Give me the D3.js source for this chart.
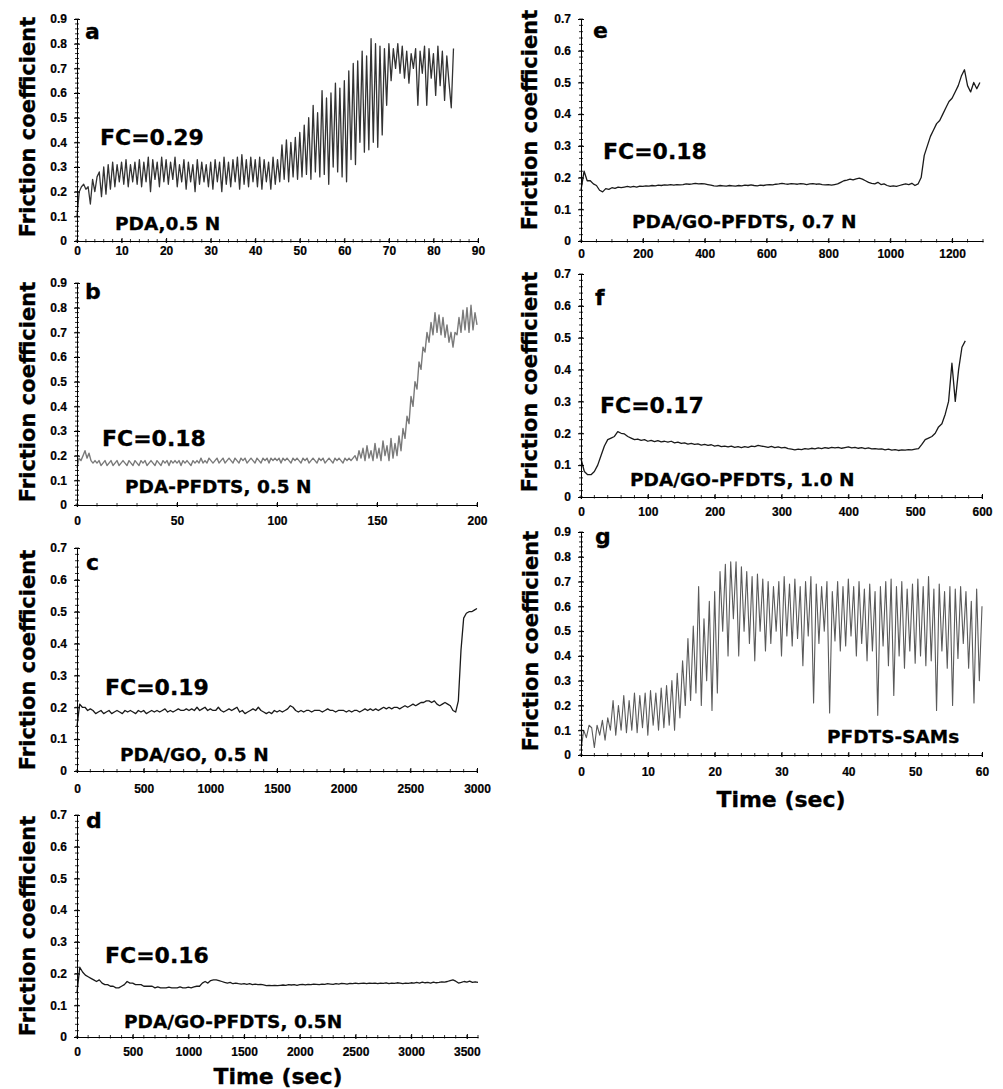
<!DOCTYPE html>
<html>
<head>
<meta charset="utf-8">
<script src="https://cdn.jsdelivr.net/npm/d3@7"></script>
<style>
  body { margin: 0; background: #fff; }
  svg text { font-family: "DejaVu Sans", sans-serif; font-weight: bold; fill: #000;
             stroke: #000; stroke-width: 0.3px; paint-order: stroke; }
  .axis text { font-family: "Liberation Sans", Arial, sans-serif; font-size: 12px; font-weight: bold; stroke-width: 0.2px; }
  .axis path, .axis line { stroke: #000; stroke-width: 1; }
</style>
</head>
<body>
<svg id="fig" width="1003" height="1089"></svg>
<script>
// friction coefficient traces (uniform sampling per panel)
const dtA = 0.5;
const fricA = [
  0.10,0.20,0.22,0.23,0.21,0.22,0.15,0.25,0.20,0.26,
  0.28,0.18,0.30,0.19,0.31,0.21,0.32,0.22,0.31,0.24,
  0.32,0.23,0.33,0.22,0.31,0.24,0.32,0.23,0.33,0.22,
  0.32,0.24,0.34,0.20,0.33,0.25,0.32,0.22,0.34,0.24,
  0.33,0.23,0.32,0.25,0.34,0.22,0.31,0.24,0.33,0.21,
  0.32,0.24,0.31,0.20,0.33,0.23,0.32,0.24,0.31,0.22,
  0.32,0.21,0.33,0.24,0.32,0.20,0.34,0.23,0.32,0.22,
  0.33,0.24,0.34,0.21,0.35,0.23,0.33,0.22,0.34,0.24,
  0.33,0.22,0.34,0.21,0.33,0.24,0.32,0.21,0.34,0.23,
  0.33,0.24,0.39,0.25,0.41,0.24,0.40,0.26,0.42,0.25,
  0.44,0.26,0.47,0.27,0.50,0.25,0.55,0.28,0.52,0.26,
  0.61,0.27,0.58,0.23,0.60,0.30,0.64,0.28,0.62,0.26,
  0.65,0.24,0.69,0.33,0.72,0.31,0.73,0.40,0.77,0.36,
  0.75,0.37,0.82,0.40,0.80,0.38,0.79,0.43,0.78,0.55,
  0.80,0.65,0.78,0.70,0.80,0.68,0.79,0.66,0.77,0.64,
  0.76,0.70,0.78,0.55,0.77,0.68,0.79,0.55,0.78,0.66,
  0.76,0.59,0.79,0.63,0.77,0.57,0.75,0.64,0.54,0.78
];

const dtB = 1;
const fricB = [
  0.15,0.19,0.18,0.20,0.22,0.19,0.21,0.18,0.17,0.18,
  0.17,0.18,0.16,0.17,0.18,0.16,0.17,0.18,0.16,0.17,
  0.18,0.16,0.17,0.18,0.17,0.16,0.18,0.17,0.16,0.18,
  0.17,0.16,0.18,0.17,0.18,0.16,0.17,0.18,0.17,0.16,
  0.18,0.17,0.16,0.18,0.17,0.18,0.16,0.18,0.17,0.18,
  0.17,0.18,0.16,0.18,0.17,0.18,0.17,0.16,0.18,0.17,
  0.18,0.17,0.19,0.17,0.18,0.17,0.19,0.18,0.17,0.18,
  0.19,0.17,0.18,0.19,0.17,0.18,0.19,0.18,0.17,0.19,
  0.18,0.17,0.19,0.18,0.19,0.17,0.18,0.19,0.18,0.17,
  0.19,0.18,0.17,0.19,0.18,0.19,0.17,0.19,0.18,0.19,
  0.18,0.19,0.17,0.19,0.18,0.19,0.18,0.17,0.19,0.18,
  0.19,0.18,0.17,0.19,0.18,0.19,0.17,0.18,0.19,0.18,
  0.17,0.19,0.18,0.19,0.17,0.18,0.19,0.18,0.17,0.19,
  0.18,0.19,0.18,0.17,0.19,0.18,0.19,0.18,0.19,0.20,
  0.18,0.22,0.19,0.23,0.18,0.24,0.19,0.22,0.18,0.25,
  0.19,0.23,0.18,0.26,0.20,0.24,0.18,0.27,0.19,0.25,
  0.20,0.28,0.22,0.31,0.27,0.36,0.33,0.44,0.40,0.50,
  0.47,0.58,0.55,0.64,0.62,0.70,0.66,0.74,0.69,0.78,
  0.70,0.77,0.69,0.76,0.68,0.73,0.66,0.70,0.64,0.70,
  0.69,0.76,0.70,0.79,0.71,0.80,0.70,0.81,0.71,0.78,
  0.73
];

const dtC = 20;
const fricC = [
  0.14,0.21,0.20,0.20,0.19,0.195,0.19,0.18,0.185,0.19,
  0.18,0.185,0.19,0.18,0.185,0.19,0.185,0.18,0.19,0.185,
  0.19,0.185,0.18,0.19,0.185,0.19,0.18,0.185,0.19,0.185,
  0.19,0.185,0.19,0.195,0.185,0.19,0.185,0.19,0.195,0.19,
  0.19,0.195,0.19,0.195,0.19,0.20,0.19,0.195,0.20,0.19,
  0.195,0.19,0.19,0.20,0.19,0.185,0.19,0.195,0.19,0.195,
  0.20,0.185,0.19,0.18,0.185,0.19,0.195,0.19,0.20,0.19,
  0.185,0.18,0.185,0.18,0.19,0.185,0.19,0.185,0.19,0.195,
  0.205,0.20,0.19,0.185,0.19,0.185,0.19,0.19,0.185,0.19,
  0.19,0.19,0.185,0.19,0.195,0.19,0.19,0.185,0.19,0.19,
  0.19,0.185,0.19,0.185,0.19,0.19,0.185,0.19,0.195,0.19,
  0.195,0.19,0.195,0.19,0.195,0.20,0.195,0.20,0.195,0.20,
  0.20,0.195,0.20,0.205,0.20,0.205,0.21,0.205,0.21,0.215,
  0.215,0.22,0.22,0.215,0.22,0.21,0.205,0.21,0.215,0.21,
  0.205,0.19,0.185,0.22,0.38,0.48,0.495,0.50,0.50,0.505,
  0.51
];

const dtD = 25;
const fricD = [
  0.14,0.22,0.205,0.195,0.19,0.185,0.18,0.175,0.18,0.17,
  0.165,0.165,0.16,0.16,0.155,0.155,0.16,0.165,0.175,0.17,
  0.17,0.165,0.165,0.165,0.16,0.16,0.16,0.16,0.155,0.158,
  0.155,0.155,0.155,0.157,0.155,0.155,0.155,0.158,0.155,0.155,
  0.157,0.155,0.158,0.16,0.16,0.17,0.175,0.17,0.178,0.18,
  0.18,0.178,0.175,0.172,0.17,0.172,0.168,0.17,0.168,0.167,
  0.168,0.166,0.168,0.165,0.167,0.165,0.166,0.164,0.162,0.163,
  0.162,0.163,0.162,0.163,0.164,0.163,0.165,0.164,0.165,0.163,
  0.165,0.166,0.164,0.166,0.165,0.167,0.166,0.165,0.167,0.166,
  0.168,0.167,0.166,0.168,0.167,0.169,0.168,0.167,0.169,0.168,
  0.17,0.168,0.169,0.17,0.168,0.17,0.169,0.17,0.168,0.17,
  0.169,0.171,0.168,0.17,0.169,0.171,0.17,0.168,0.17,0.169,
  0.171,0.17,0.172,0.17,0.173,0.171,0.172,0.17,0.173,0.171,
  0.172,0.174,0.173,0.175,0.178,0.18,0.176,0.17,0.172,0.175,
  0.173,0.176,0.172,0.174,0.172
];

const dtE = 10;
const fricE = [
  0.16,0.22,0.19,0.19,0.18,0.175,0.16,0.155,0.165,0.163,
  0.168,0.166,0.17,0.168,0.17,0.172,0.17,0.172,0.17,0.173,
  0.172,0.174,0.173,0.175,0.174,0.176,0.175,0.177,0.176,0.178,
  0.176,0.178,0.177,0.178,0.18,0.179,0.18,0.182,0.18,0.181,
  0.18,0.178,0.176,0.174,0.173,0.175,0.174,0.173,0.175,0.174,
  0.173,0.175,0.174,0.176,0.175,0.177,0.175,0.174,0.176,0.175,
  0.177,0.178,0.177,0.179,0.18,0.182,0.18,0.179,0.181,0.18,
  0.179,0.181,0.18,0.178,0.18,0.181,0.179,0.18,0.178,0.177,
  0.178,0.176,0.178,0.18,0.185,0.19,0.192,0.195,0.193,0.196,
  0.198,0.195,0.19,0.185,0.182,0.18,0.185,0.178,0.18,0.175,
  0.172,0.174,0.172,0.175,0.178,0.18,0.178,0.182,0.175,0.18,
  0.20,0.27,0.30,0.33,0.35,0.37,0.38,0.40,0.42,0.44,
  0.45,0.47,0.49,0.52,0.54,0.49,0.47,0.50,0.48,0.50
];

const dtF = 5;
const fricF = [
  0.12,0.08,0.07,0.07,0.08,0.10,0.13,0.16,0.18,0.185,
  0.19,0.205,0.20,0.198,0.19,0.185,0.18,0.182,0.178,0.18,
  0.175,0.178,0.174,0.177,0.173,0.175,0.172,0.175,0.17,0.172,
  0.168,0.17,0.166,0.168,0.165,0.167,0.163,0.165,0.162,0.164,
  0.16,0.162,0.158,0.16,0.157,0.16,0.156,0.158,0.155,0.158,
  0.156,0.16,0.158,0.162,0.16,0.158,0.156,0.159,0.155,0.157,
  0.154,0.156,0.152,0.15,0.148,0.15,0.149,0.152,0.15,0.153,
  0.151,0.154,0.152,0.155,0.153,0.156,0.154,0.156,0.153,0.155,
  0.157,0.154,0.156,0.153,0.155,0.152,0.154,0.151,0.152,0.15,
  0.151,0.148,0.15,0.147,0.149,0.146,0.148,0.147,0.149,0.148,
  0.15,0.152,0.165,0.18,0.185,0.19,0.20,0.22,0.23,0.26,
  0.30,0.42,0.30,0.40,0.47,0.49
];

const dtG = 0.4;
const fricG = [
  0.02,0.10,0.07,0.12,0.11,0.03,0.12,0.08,0.14,0.06,
  0.15,0.10,0.22,0.08,0.20,0.10,0.24,0.09,0.22,0.10,
  0.25,0.09,0.24,0.11,0.25,0.08,0.26,0.12,0.25,0.10,
  0.27,0.11,0.28,0.12,0.30,0.10,0.33,0.15,0.38,0.20,
  0.47,0.22,0.52,0.25,0.68,0.20,0.55,0.30,0.62,0.18,
  0.66,0.25,0.74,0.50,0.77,0.40,0.78,0.55,0.78,0.40,
  0.76,0.50,0.74,0.45,0.72,0.38,0.73,0.50,0.71,0.42,
  0.70,0.45,0.68,0.50,0.70,0.40,0.72,0.48,0.69,0.44,
  0.71,0.47,0.68,0.36,0.70,0.48,0.72,0.21,0.69,0.45,
  0.68,0.50,0.70,0.17,0.66,0.46,0.70,0.42,0.68,0.44,
  0.71,0.48,0.68,0.40,0.70,0.45,0.67,0.38,0.69,0.42,
  0.66,0.16,0.68,0.44,0.70,0.36,0.71,0.24,0.68,0.40,
  0.70,0.35,0.67,0.42,0.69,0.37,0.71,0.40,0.68,0.36,
  0.72,0.38,0.67,0.18,0.69,0.42,0.66,0.35,0.68,0.20,
  0.67,0.39,0.68,0.45,0.66,0.35,0.62,0.21,0.67,0.30,
  0.60
];

// tick labels
const ticksA = [0, 10, 20, 30, 40, 50, 60, 70, 80, 90];
const ticksB = [0, 50, 100, 150, 200];
const ticksC = [0, 500, 1000, 1500, 2000, 2500, 3000];
const ticksD = [0, 500, 1000, 1500, 2000, 2500, 3000, 3500];
const ticksE = [0, 200, 400, 600, 800, 1000, 1200];
const ticksF = [0, 100, 200, 300, 400, 500, 600];
const ticksG = [0, 10, 20, 30, 40, 50, 60];
const yTicks9 = [0, 0.1, 0.2, 0.3, 0.4, 0.5, 0.6, 0.7, 0.8, 0.9];
const yTicks7 = [0, 0.1, 0.2, 0.3, 0.4, 0.5, 0.6, 0.7];

const letters = ['a', 'b', 'c', 'd', 'e', 'f', 'g'];
const fcLabels = ['FC=0.29', 'FC=0.18', 'FC=0.19', 'FC=0.16', 'FC=0.18', 'FC=0.17', null];
const notes = ['PDA,0.5 N', 'PDA-PFDTS, 0.5 N', 'PDA/GO, 0.5 N', 'PDA/GO-PFDTS, 0.5N',
               'PDA/GO-PFDTS, 0.7 N', 'PDA/GO-PFDTS, 1.0 N', 'PFDTS-SAMs'];

const svg = d3.select('#fig');

// layout of each panel (pixel boxes measured on the figure)
const panels = [
  { vals: fricA, dt: dtA, xt: ticksA, yt: yTicks9, xMax: 90,   xMinor: 2,   x0: 77,  x1: 478, yTop: 19,  yBot: 241,  gap: 2,  stroke: '#333', sw: 1.3,
    letter: [85, 39], fc: [100, 145], note: [115, 230], titleX: 35, titleY: 127 },
  { vals: fricB, dt: dtB, xt: ticksB, yt: yTicks9, xMax: 200,  xMinor: 10,  x0: 77,  x1: 477, yTop: 283, yBot: 505,  gap: 8,  stroke: '#7a7a7a', sw: 1.4,
    letter: [85, 299], fc: [102, 446], note: [125, 493], titleX: 35, titleY: 392 },
  { vals: fricC, dt: dtC, xt: ticksC, yt: yTicks7, xMax: 3000, xMinor: 100, x0: 77,  x1: 477, yTop: 548, yBot: 771,  gap: 10, stroke: '#1a1a1a', sw: 1.3,
    letter: [86, 570], fc: [105, 695], note: [120, 761], titleX: 35, titleY: 660 },
  { vals: fricD, dt: dtD, xt: ticksD, yt: yTicks7, xMax: 3600, xMinor: 100, x0: 77,  x1: 478, yTop: 815, yBot: 1037, gap: 7,  stroke: '#1a1a1a', sw: 1.3,
    letter: [86, 828], fc: [105, 963], note: [124, 1028], titleX: 35, titleY: 926 },
  { vals: fricE, dt: dtE, xt: ticksE, yt: yTicks7, xMax: 1300, xMinor: 50,  x0: 581, x1: 983, yTop: 19,  yBot: 241,  gap: 5,  stroke: '#1a1a1a', sw: 1.3,
    letter: [593, 38], fc: [603, 159], note: [632, 228], titleX: 537, titleY: 120 },
  { vals: fricF, dt: dtF, xt: ticksF, yt: yTicks7, xMax: 600,  xMinor: 20,  x0: 581, x1: 982, yTop: 274, yBot: 497,  gap: 7,  stroke: '#1a1a1a', sw: 1.3,
    letter: [595, 305], fc: [600, 413], note: [630, 486], titleX: 537, titleY: 382 },
  { vals: fricG, dt: dtG, xt: ticksG, yt: yTicks9, xMax: 60,   xMinor: 2,   x0: 581, x1: 982, yTop: 532, yBot: 755,  gap: 9,  stroke: '#5a5a5a', sw: 1.1,
    letter: [595, 544], fc: null, note: [827, 743], titleX: 538, titleY: 641 }
];

const yFmt = d => d === 0 ? '0' : d3.format('.1f')(d);

panels.forEach((p, k) => {
  const yMax = p.yt[p.yt.length - 1];
  const x = d3.scaleLinear().domain([0, p.xMax]).range([p.x0, p.x1]);
  const y = d3.scaleLinear().domain([0, yMax]).range([p.yBot, p.yTop]);
  const g = svg.append('g');

  // minor ticks
  const yMinor = d3.range(0, Math.round(yMax / 0.02) + 1).map(i => i * 0.02);
  const xMinor = d3.range(0, Math.floor(p.xMax / p.xMinor + 1e-6) + 1).map(i => i * p.xMinor);
  g.append('g').selectAll('line').data(yMinor).join('line')
    .attr('x1', p.x0 - 2).attr('x2', p.x0 + 2)
    .attr('y1', d => y(d)).attr('y2', d => y(d))
    .attr('stroke', '#000').attr('stroke-width', 0.8);
  g.append('g').selectAll('line').data(xMinor).join('line')
    .attr('x1', d => x(d)).attr('x2', d => x(d))
    .attr('y1', p.yBot - 2).attr('y2', p.yBot + 1.5)
    .attr('stroke', '#000').attr('stroke-width', 0.8);

  // trace
  const line = d3.line().x((v, i) => x(i * p.dt)).y(v => y(v));
  g.append('path').datum(p.vals)
    .attr('d', line)
    .attr('fill', 'none')
    .attr('stroke', p.stroke)
    .attr('stroke-width', p.sw)
    .attr('stroke-linejoin', 'round');

  // axes
  const ya = g.append('g').attr('class', 'axis')
    .attr('transform', `translate(${p.x0},0)`)
    .call(d3.axisLeft(y).tickValues(p.yt).tickFormat(yFmt).tickSizeInner(3).tickSizeOuter(0).tickPadding(7));
  ya.attr('font-size', null).attr('font-family', null);
  ya.selectAll('.tick line').attr('x1', 3).attr('x2', -3);

  const xa = g.append('g').attr('class', 'axis')
    .attr('transform', `translate(0,${p.yBot})`)
    .call(d3.axisBottom(x).tickValues(p.xt).tickFormat(d3.format('d')).tickSizeInner(3).tickSizeOuter(0).tickPadding(p.gap));
  xa.attr('font-size', null).attr('font-family', null);
  xa.selectAll('.tick line').attr('y1', -3).attr('y2', 2);

  // texts
  g.append('text').attr('x', p.letter[0]).attr('y', p.letter[1])
    .attr('font-size', 22).attr('stroke-width', 0.6).text(letters[k]);
  if (p.fc) {
    g.append('text').attr('x', p.fc[0]).attr('y', p.fc[1])
      .attr('font-size', 22).attr('stroke-width', 0.6).text(fcLabels[k]);
  }
  g.append('text').attr('x', p.note[0]).attr('y', p.note[1])
    .attr('font-size', 18.5).text(notes[k]);
  g.append('text')
    .attr('transform', `translate(${p.titleX},${p.titleY}) rotate(-90)`)
    .attr('text-anchor', 'middle')
    .attr('font-size', 21).text('Friction coefficient');
});

// x-axis titles under the bottom panel of each column
svg.append('text').attr('x', 278).attr('y', 1084)
  .attr('text-anchor', 'middle').attr('font-size', 22).text('Time (sec)');
svg.append('text').attr('x', 781).attr('y', 807)
  .attr('text-anchor', 'middle').attr('font-size', 22).text('Time (sec)');
</script>
</body>
</html>
